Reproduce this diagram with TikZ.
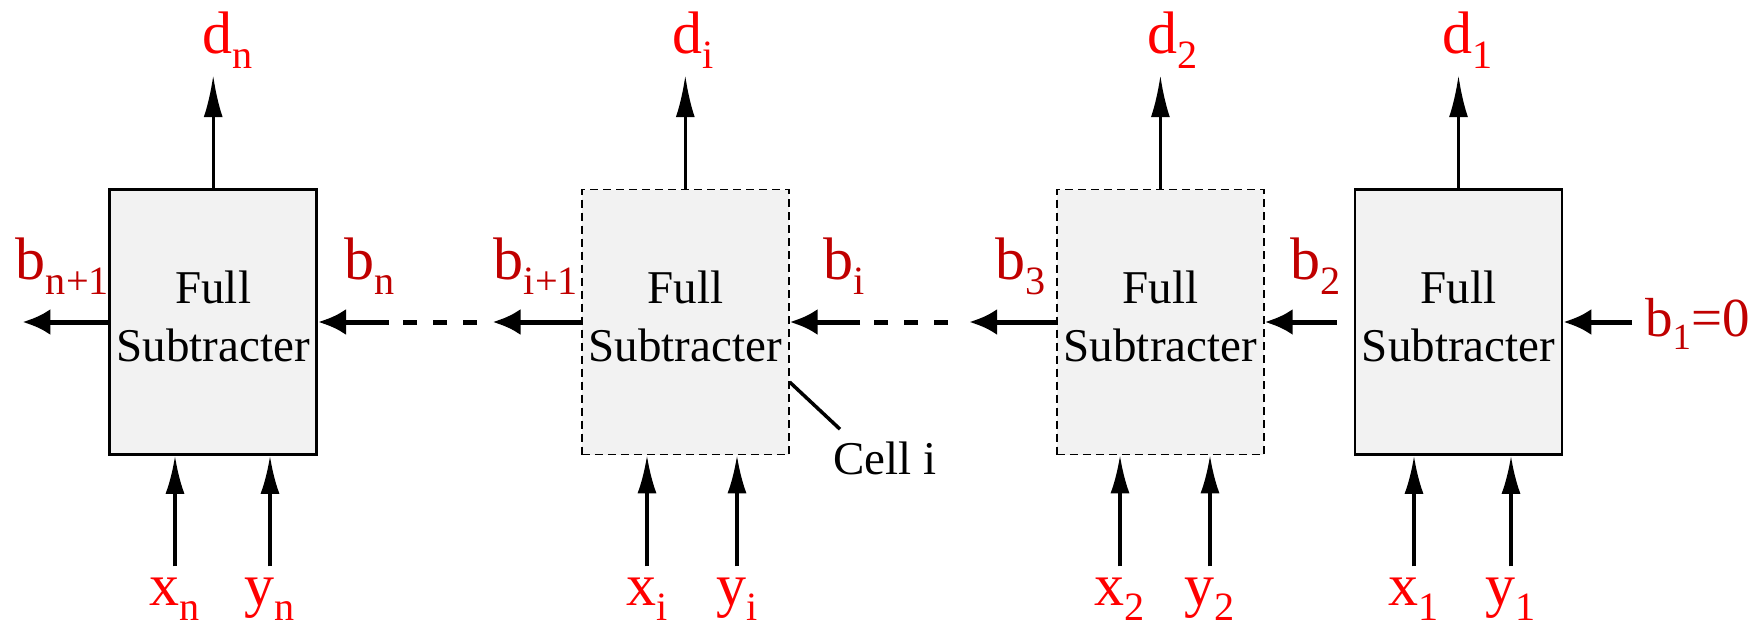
\documentclass[tikz,border=0pt]{standalone}
\usepackage{fontspec}
\setmainfont{Liberation Serif}
\usetikzlibrary{positioning}
\usetikzlibrary{arrows.meta}
\definecolor{outred}{RGB}{255,0,0}
\definecolor{borrowred}{RGB}{192,0,0}
\newcommand{\lsub}[1]{\raisebox{-.25em}{\scalebox{.67}{#1}}}
\tikzset{
    fsbox/.style={
        draw,
        line width=2.6pt,
        fill=gray!10,
        minimum width=207pt,
        minimum height=265pt,
        align=center,
        text depth=12pt,
        font=\fontsize{47}{58}\selectfont
    },
    cellbox/.style={
        fsbox,
        line width=1.6pt,
        dash pattern=on 8pt off 5pt
    },
    sumout/.style={
        -{Latex[length=42pt,width=19pt]},
        line width=3.2pt,
        shorten >=7pt
    },
    sumin/.style={
        -{Latex[length=38pt,width=19pt]},
        line width=3.2pt,
        shorten <=11pt
    },
    carry/.style={
        -{Latex[length=28pt,width=26pt]},
        line width=5pt
    },
    gap/.style={
        line width=5pt,
        dash pattern=on 14pt off 16pt
    }
}

\begin{document}
\begin{tikzpicture}[x=1pt, y=-1pt,
    outlbl/.style={font=\fontsize{60}{60}\selectfont, text=outred, inner sep=0pt, anchor=base west},
    inlbl/.style={font=\fontsize{60}{60}\selectfont, text=outred, inner sep=0pt, anchor=base},
    blbl/.style={font=\fontsize{60}{60}\selectfont, text=borrowred, inner sep=0pt}]
    \useasboundingbox (0,0) rectangle (1757,627);

    % the four cells, right to left
    \node[fsbox] (fs1) at (1458.5,322) {Full\\Subtracter};
    \node[cellbox, left=89pt of fs1] (fs2) {Full\\Subtracter};
    \node[cellbox, left=266.5pt of fs2] (fsi) {Full\\Subtracter};
    \node[fsbox, left=263pt of fsi] (fsn) {Full\\Subtracter};

    % differences
    \node[outlbl] (dn) at (202,53) {d\lsub{n}};
    \node[outlbl] (di) at (672,53) {d\lsub{i}};
    \node[outlbl] (d2) at (1147,53) {d\lsub{2}};
    \node[outlbl] (d1) at (1442,53) {d\lsub{1}};

    % operands
    \node[inlbl] (xn) at (175,605) {x\lsub{n}};
    \node[inlbl] (yn) at (270,605) {y\lsub{n}};
    \node[inlbl] (xi) at (647,605) {x\lsub{i}};
    \node[inlbl] (yi) at (737,605) {y\lsub{i}};
    \node[inlbl] (x2) at (1120,605) {x\lsub{2}};
    \node[inlbl] (y2) at (1210,605) {y\lsub{2}};
    \node[inlbl] (x1) at (1414,605) {x\lsub{1}};
    \node[inlbl] (y1) at (1511,605) {y\lsub{1}};

    % borrows
    \node[blbl, anchor=base east] (bnp) at (109,279) {b\lsub{n+1}};
    \node[blbl, anchor=base west] (bn) at (344,279) {b\lsub{n}};
    \node[blbl, anchor=base east] (bip) at (578,279) {b\lsub{i+1}};
    \node[blbl, anchor=base west] (bi) at (823,279) {b\lsub{i}};
    \node[blbl, anchor=base east] (b3) at (1046,279) {b\lsub{3}};
    \node[blbl, anchor=base west] (b2) at (1290,279) {b\lsub{2}};
    \node[blbl, anchor=base west, font=\fontsize{55}{55}\selectfont] (b1) at (1645,336) {b\lsub{1}=0};

    \node[anchor=base west, inner sep=0pt, font=\fontsize{47}{47}\selectfont] (celli) at (833,474) {Cell i};

    % ends of the broken borrow chain
    \coordinate (bnout) at ([xshift=-86pt]fsn.west);
    \coordinate (bnin) at ([xshift=71pt]fsn.east);
    \coordinate (dashB) at ([xshift=85pt]fsn.east);
    \coordinate (dashA) at ([xshift=-104pt]fsi.west);
    \coordinate (biout) at ([xshift=-88.5pt]fsi.west);
    \coordinate (biin) at ([xshift=70.5pt]fsi.east);
    \coordinate (dashD) at ([xshift=84.5pt]fsi.east);
    \coordinate (dashC) at ([xshift=-108pt]fs2.west);
    \coordinate (b3out) at ([xshift=-87pt]fs2.west);

    \draw[sumout] (fsn.north) -- (fsn.north |- dn.south);
    \draw[sumout] (fsi.north) -- (fsi.north |- di.south);
    \draw[sumout] (fs2.north) -- (fs2.north |- d2.south);
    \draw[sumout] (fs1.north) -- (fs1.north |- d1.south);

    \draw[sumin] (xn.north) -- (xn.north |- fsn.south);
    \draw[sumin] (yn.north) -- (yn.north |- fsn.south);
    \draw[sumin] (xi.north) -- (xi.north |- fsi.south);
    \draw[sumin] (yi.north) -- (yi.north |- fsi.south);
    \draw[sumin] (x2.north) -- (x2.north |- fs2.south);
    \draw[sumin] (y2.north) -- (y2.north |- fs2.south);
    \draw[sumin] (x1.north) -- (x1.north |- fs1.south);
    \draw[sumin] (y1.north) -- (y1.north |- fs1.south);

    \draw[carry, shorten <=13pt] (fs1.east -| b1.west) -- (fs1.east);
    \draw[carry, shorten <=17pt] (fs1.west) -- (fs2.east);
    \draw[carry] (fs2.west) -- (b3out);
    \draw[gap] (dashC) -- (dashD);
    \draw[carry] (biin) -- (fsi.east);
    \draw[carry] (fsi.west) -- (biout);
    \draw[gap] (dashA) -- (dashB);
    \draw[carry] (bnin) -- (fsn.east);
    \draw[carry] (fsn.west) -- (bnout);

    \draw[line width=3.5pt] ([yshift=-60pt]fsi.east) -- ([xshift=7pt,yshift=12pt]celli.north west);
\end{tikzpicture}
\end{document}
